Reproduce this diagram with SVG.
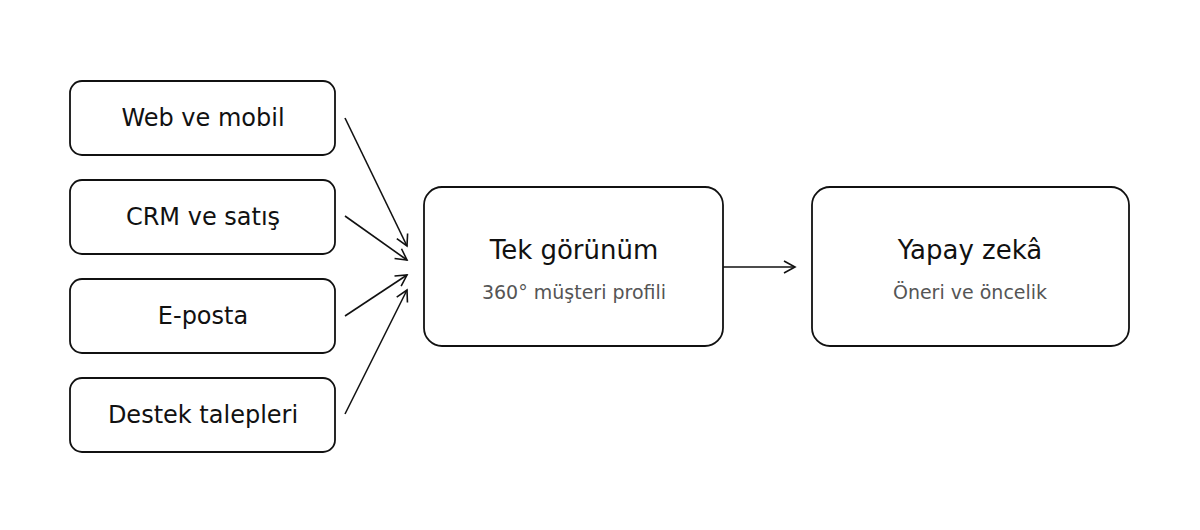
<svg xmlns="http://www.w3.org/2000/svg" width="1200" height="530" viewBox="0 0 1200 530">
<style>
.box{fill:#fff;stroke:#111;stroke-width:1.8}
.t{font-family:"DejaVu Sans",sans-serif;fill:#111;text-anchor:middle}
.s{font-family:"DejaVu Sans",sans-serif;fill:#555;text-anchor:middle;font-size:19px}
.c{stroke:#111;stroke-width:1.6;fill:none}
</style>
<defs><marker id="a" markerWidth="14" markerHeight="14" refX="12" refY="7" orient="auto" markerUnits="userSpaceOnUse"><path d="M1,1 L12,7 L1,13" fill="none" stroke="#111" stroke-width="1.6"/></marker></defs>
<rect width="1200" height="530" fill="#fff"/>
<g id="web"><rect class="box" x="70" y="81" width="265" height="74" rx="12"/><text class="t" x="203" y="126" font-size="24">Web ve mobil</text></g>
<g id="crm"><rect class="box" x="70" y="180" width="265" height="74" rx="12"/><text class="t" x="203" y="225" font-size="24">CRM ve satış</text></g>
<g id="eposta"><rect class="box" x="70" y="279" width="265" height="74" rx="12"/><text class="t" x="203" y="324" font-size="24">E-posta</text></g>
<g id="destek"><rect class="box" x="70" y="378" width="265" height="74" rx="12"/><text class="t" x="203" y="423" font-size="24">Destek talepleri</text></g>
<g id="tek"><rect class="box" x="424" y="187" width="299" height="159" rx="18"/><text class="t" x="574" y="259" font-size="26">Tek görünüm</text><text class="s" x="574" y="299">360° müşteri profili</text></g>
<g id="yz"><rect class="box" x="812" y="187" width="317" height="159" rx="18"/><text class="t" x="970" y="259" font-size="26">Yapay zekâ</text><text class="s" x="970" y="299">Öneri ve öncelik</text></g>
<g id="connectors">
<line class="c" x1="345" y1="118" x2="407" y2="246" marker-end="url(#a)"/>
<line class="c" x1="345" y1="216" x2="407" y2="260" marker-end="url(#a)"/>
<line class="c" x1="345" y1="316" x2="407" y2="275" marker-end="url(#a)"/>
<line class="c" x1="345" y1="414" x2="407" y2="290" marker-end="url(#a)"/>
<line class="c" x1="723" y1="267" x2="795" y2="267" marker-end="url(#a)"/>
</g>
</svg>
